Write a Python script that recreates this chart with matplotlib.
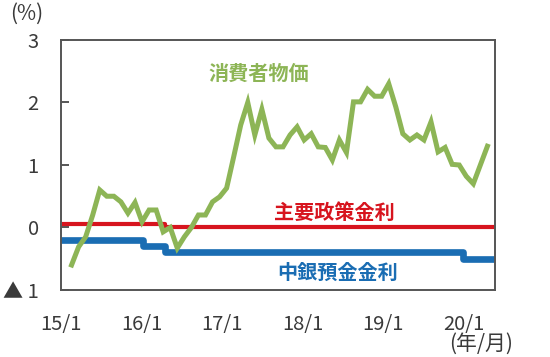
import numpy as np
import matplotlib
matplotlib.use("Agg")
import matplotlib.pyplot as plt

plt.rcParams["font.family"] = ["Noto Sans CJK JP", "DejaVu Sans"]

# ── Data (monthly, Jan 2015 = month 0) ────────────────────────
months = np.arange(60)
cpi = [-0.6, -0.31, -0.15, 0.2, 0.6, 0.5, 0.5, 0.41, 0.23, 0.4, 0.09, 0.28,
       0.28, -0.07, 0.0, -0.33, -0.15, 0.0, 0.2, 0.2, 0.41, 0.49, 0.63, 1.13,
       1.64, 2.0, 1.48, 1.89, 1.43, 1.29, 1.29, 1.48, 1.61, 1.4, 1.5, 1.29,
       1.28, 1.08, 1.4, 1.2, 2.01, 2.01, 2.21, 2.1, 2.1, 2.3, 1.93, 1.5,
       1.4, 1.48, 1.4, 1.69, 1.21, 1.28, 1.01, 1.0, 0.82, 0.7, 1.0, 1.3]

# policy rates: change points (month) and level
policy_dates = [-1.06, 13.2, 60.07]
policy_rate  = [0.05, 0.0, 0.0]
deposit_dates = [-1.06, 10.1, 13.2, 55.6, 60.07]
deposit_rate  = [-0.2, -0.3, -0.4, -0.5, -0.5]

x_labels = ["15/1", "16/1", "17/1", "18/1", "19/1", "20/1"]
y_ticks  = [-1, 0, 1, 2, 3]
y_labels = ["▲ 1", "0", "1", "2", "3"]

GREEN = "#8DB556"
RED   = "#D7141E"
BLUE  = "#1A6DB3"
TEXT  = "#3A3A3A"

fig = plt.figure(figsize=(5.5, 3.57), dpi=100)
ax = fig.add_axes([0.1109, 0.1877, 0.789, 0.7003])

ax.step(policy_dates, policy_rate, where="post", color=RED, lw=3.0)
ax.step(deposit_dates, deposit_rate, where="post", color=BLUE, lw=4.8)
ax.plot(months, cpi, color=GREEN, lw=3.6, solid_joinstyle="miter")

ax.set_xlim(-1.06, 60.07)
ax.set_ylim(-1, 3)

ax.set_yticks(y_ticks)
ax.set_yticklabels(y_labels)
ax.set_xticks(np.linspace(-1.5, 55.6, len(x_labels)))
ax.set_xticklabels(x_labels)

ax.tick_params(axis="y", direction="in", length=6, width=1.2, pad=16,
               labelsize=14.5, colors=TEXT, right=False)
ax.tick_params(axis="x", length=0, pad=17, labelsize=14.5, colors=TEXT)
for s in ax.spines.values():
    s.set_color("#555555")
    s.set_linewidth(1.4)

# ── Labels ─────────────────────────────────────────────────────
ax.text(0.456, 0.868, "消費者物価", transform=ax.transAxes, color=GREEN,
        fontsize=14.5, fontweight="bold", ha="center", va="center")
ax.text(0.629, 0.312, "主要政策金利", transform=ax.transAxes, color=RED,
        fontsize=14.5, fontweight="bold", ha="center", va="center")
ax.text(0.637, 0.072, "中銀預金金利", transform=ax.transAxes, color=BLUE,
        fontsize=14.5, fontweight="bold", ha="center", va="center")

fig.text(0.048, 0.962, "(%)", fontsize=15, color=TEXT,
         ha="center", va="center")
fig.text(0.875, 0.036, "(年/月)", fontsize=15, color=TEXT,
         ha="center", va="center")

plt.savefig("out.png", dpi=100)
plt.close()
